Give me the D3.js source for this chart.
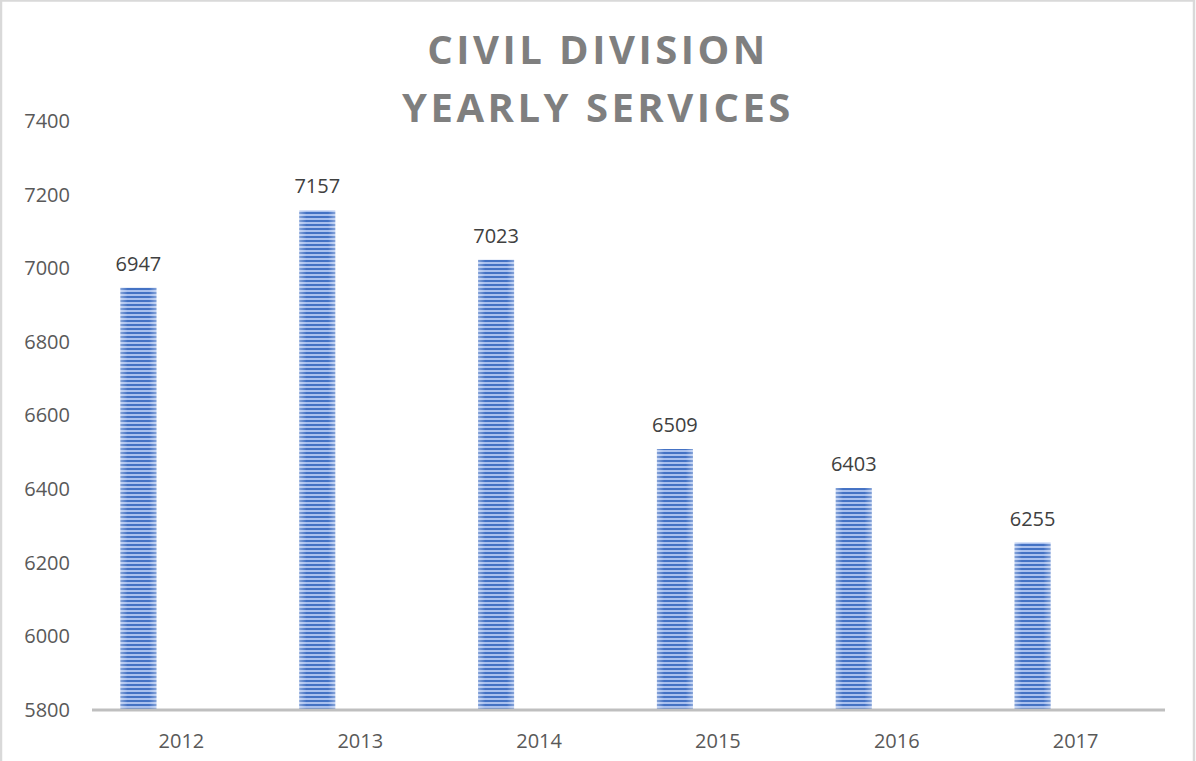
<!DOCTYPE html>
<html>
<head>
<meta charset="utf-8">
<script src="https://cdn.jsdelivr.net/npm/d3@7/dist/d3.min.js"></script>
<style>
  html, body { margin: 0; padding: 0; background: #fff; }
  svg { display: block; }
</style>
</head>
<body>
<script>
// chart data
var years = ["2012", "2013", "2014", "2015", "2016", "2017"];
var services = [6947, 7157, 7023, 6509, 6403, 6255];
var yTicks = [5800, 6000, 6200, 6400, 6600, 6800, 7000, 7200, 7400];
var titleLines = ["CIVIL DIVISION", "YEARLY SERVICES"];

var width = 1196, height = 761;
var font = "'Open Sans', 'Liberation Sans', sans-serif";

var svg = d3.select("body").append("svg")
  .attr("width", width)
  .attr("height", height);

// outer frame
svg.append("rect")
  .attr("x", 1).attr("y", 0.5)
  .attr("width", width - 3).attr("height", height + 2)
  .attr("fill", "#fff")
  .attr("stroke", "#d9d9d9")
  .attr("stroke-width", 2.5);

// stripe pattern for the bars
var defs = svg.append("defs");
var pat = defs.append("pattern")
  .attr("id", "stripes")
  .attr("patternUnits", "userSpaceOnUse")
  .attr("width", 8).attr("height", 4);
pat.append("rect").attr("width", 8).attr("height", 4).attr("fill", "#a9c0ee");
pat.append("rect").attr("width", 8).attr("height", 2).attr("fill", "#4472c4");

var grad = defs.append("linearGradient")
  .attr("id", "sheen")
  .attr("x1", "0").attr("x2", "1").attr("y1", "0").attr("y2", "0");
grad.append("stop").attr("offset", "0").attr("stop-color", "#fff").attr("stop-opacity", 0.35);
grad.append("stop").attr("offset", "0.2").attr("stop-color", "#fff").attr("stop-opacity", 0);
grad.append("stop").attr("offset", "0.8").attr("stop-color", "#fff").attr("stop-opacity", 0);
grad.append("stop").attr("offset", "1").attr("stop-color", "#fff").attr("stop-opacity", 0.35);

var x0 = 92, x1 = 1165;
var x = d3.scaleBand().domain(years).range([x0, x1]);
var y = d3.scaleLinear().domain([5800, 7400]).range([710, 121]);

// bars sit in the left half of each category (second slot is empty)
var barW = 36;
var barOffset = -43;

var bars = svg.append("g").selectAll("g")
  .data(years.map(function(d, i) { return { year: d, value: services[i] }; }))
  .enter().append("g");

bars.append("rect")
  .attr("x", function(d) { return x(d.year) + x.bandwidth() / 2 + barOffset - barW / 2; })
  .attr("y", function(d) { return y(d.value); })
  .attr("width", barW)
  .attr("height", function(d) { return y(5800) - y(d.value); })
  .attr("fill", "url(#stripes)");

bars.append("rect")
  .attr("x", function(d) { return x(d.year) + x.bandwidth() / 2 + barOffset - barW / 2; })
  .attr("y", function(d) { return y(d.value); })
  .attr("width", barW)
  .attr("height", function(d) { return y(5800) - y(d.value); })
  .attr("fill", "url(#sheen)");

bars.append("text")
  .attr("x", function(d) { return x(d.year) + x.bandwidth() / 2 + barOffset; })
  .attr("y", function(d) { return y(d.value) - 17; })
  .attr("text-anchor", "middle")
  .attr("font-family", font)
  .attr("font-size", 20)
  .attr("fill", "#404040")
  .text(function(d) { return d.value; });

// x axis line
svg.append("line")
  .attr("x1", x0).attr("x2", x1)
  .attr("y1", y(5800)).attr("y2", y(5800))
  .attr("stroke", "#bfbfbf")
  .attr("stroke-width", 3);

// y axis labels
var yAxis = d3.axisLeft(y).tickValues(yTicks).tickFormat(d3.format("d")).tickSize(0).tickPadding(0);
var gy = svg.append("g").attr("transform", "translate(70,0)").call(yAxis);
gy.select(".domain").remove();
gy.attr("font-family", font).attr("font-size", 20);
gy.selectAll("text").attr("fill", "#595959");

// x axis labels
var xAxis = d3.axisBottom(x).tickSize(0).tickPadding(0);
var gx = svg.append("g").attr("transform", "translate(0,734)").call(xAxis);
gx.select(".domain").remove();
gx.attr("font-family", font).attr("font-size", 20);
gx.selectAll("text").attr("fill", "#595959");

// title
svg.append("g").selectAll("text")
  .data(titleLines)
  .enter().append("text")
  .attr("x", 598)
  .attr("y", function(d, i) { return 64 + i * 58; })
  .attr("text-anchor", "middle")
  .attr("font-family", font)
  .attr("font-size", 40)
  .attr("font-weight", "bold")
  .attr("letter-spacing", 3.5)
  .attr("fill", "#7f7f7f")
  .text(function(d) { return d; });
</script>
</body>
</html>
